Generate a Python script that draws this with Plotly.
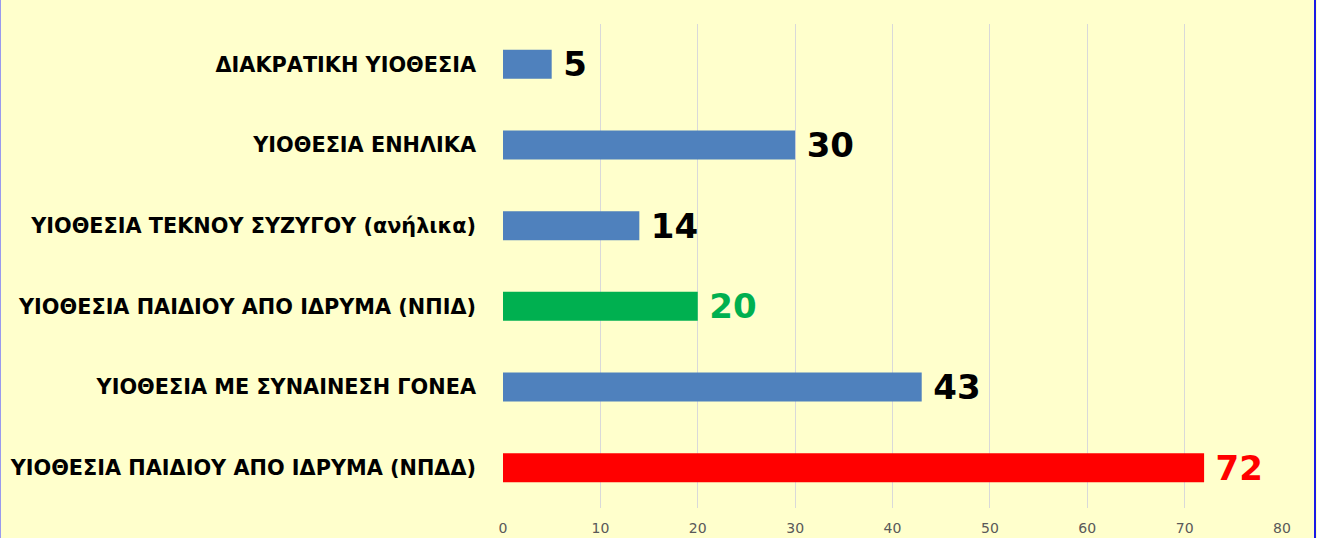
import plotly.graph_objects as go

categories = [
    "ΔΙΑΚΡΑΤΙΚΗ ΥΙΟΘΕΣΙΑ",
    "ΥΙΟΘΕΣΙΑ ΕΝΗΛΙΚΑ",
    "ΥΙΟΘΕΣΙΑ ΤΕΚΝΟΥ ΣΥΖΥΓΟΥ (ανήλικα)",
    "ΥΙΟΘΕΣΙΑ ΠΑΙΔΙΟΥ ΑΠΟ ΙΔΡΥΜΑ (ΝΠΙΔ)",
    "ΥΙΟΘΕΣΙΑ ΜΕ ΣΥΝΑΙΝΕΣΗ ΓΟΝΕΑ",
    "ΥΙΟΘΕΣΙΑ ΠΑΙΔΙΟΥ ΑΠΟ ΙΔΡΥΜΑ (ΝΠΔΔ)",
]
values = [5, 30, 14, 20, 43, 72]
bar_colors = ["#4F81BD", "#4F81BD", "#4F81BD", "#00B050", "#4F81BD", "#FF0000"]
label_colors = ["#000000", "#000000", "#000000", "#00B050", "#000000", "#FF0000"]
x_ticks = [0, 10, 20, 30, 40, 50, 60, 70, 80]

W, H = 1317, 538
ML, MR, MT, MB = 503, 35, 24, 30

fig = go.Figure(
    go.Bar(
        y=categories,
        x=values,
        orientation="h",
        marker=dict(color=bar_colors, line=dict(width=0)),
        width=0.36,
        texttemplate="\u2005%{x}",
        textposition="outside",
        constraintext="none",
        textfont=dict(family="DejaVu Sans", size=34, color=label_colors, weight="bold"),
        cliponaxis=False,
    )
)

pw = W - ML - MR
ph = H - MT - MB
fig.update_layout(
    width=W,
    height=H,
    margin=dict(l=ML, r=MR, t=MT, b=MB, autoexpand=False),
    paper_bgcolor="#FFFFCC",
    plot_bgcolor="#FFFFCC",
    showlegend=False,
    xaxis=dict(
        range=[0, 80],
        tickvals=x_ticks,
        showgrid=True,
        gridcolor="#D9D9D9",
        gridwidth=1,
        zeroline=False,
        showline=False,
        automargin=False,
        tickfont=dict(family="DejaVu Sans", size=14, color="#595959"),
        ticks="",
        ticklabelstandoff=10,
    ),
    yaxis=dict(
        autorange="reversed",
        showgrid=False,
        zeroline=False,
        showline=False,
        automargin=False,
        ticks="",
        tickfont=dict(family="DejaVu Sans", size=20.8, color="#000000", weight="bold"),
        ticklabelstandoff=26,
    ),
    shapes=[
        dict(type="line", xref="paper", yref="paper",
             x0=(0.5 - ML) / pw, x1=(0.5 - ML) / pw, y0=-MB / ph, y1=1 + MT / ph,
             line=dict(color="#9999EE", width=1)),
        dict(type="line", xref="paper", yref="paper",
             x0=(W - 2 - ML) / pw, x1=(W - 2 - ML) / pw, y0=-MB / ph, y1=1 + MT / ph,
             line=dict(color="#1A1AE6", width=2)),
    ],
)

fig.write_html(
    "out.html",
    config={"displayModeBar": False},
    post_script="document.body.style.margin='0';document.body.style.padding='0';document.body.style.overflow='hidden';",
)
